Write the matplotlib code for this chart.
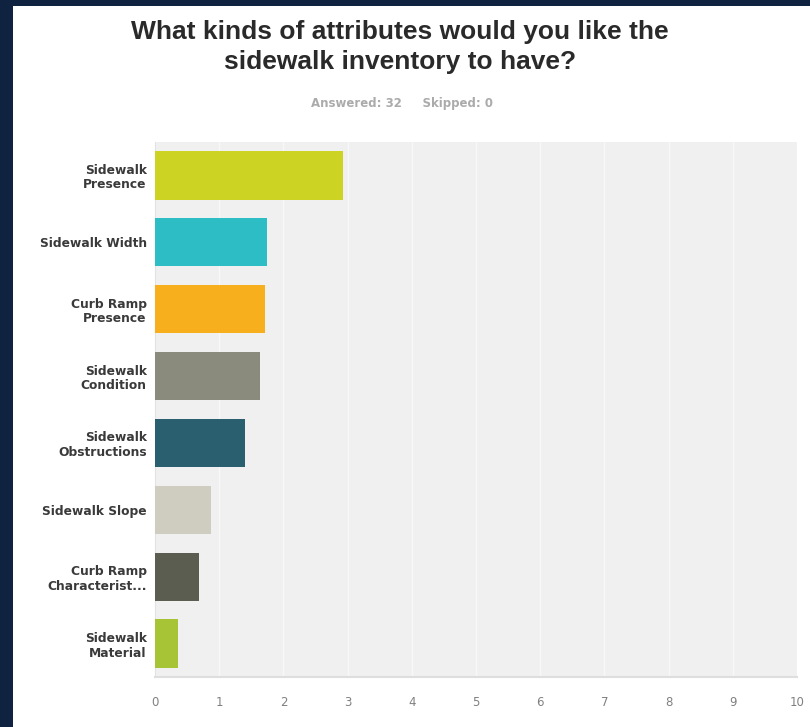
import matplotlib
matplotlib.use("Agg")
import matplotlib.pyplot as plt
from matplotlib.patches import Rectangle

categories = ["Sidewalk\nPresence", "Sidewalk Width", "Curb Ramp\nPresence", "Sidewalk\nCondition",
              "Sidewalk\nObstructions", "Sidewalk Slope", "Curb Ramp\nCharacterist...", "Sidewalk\nMaterial"]
values = [2.93, 1.75, 1.72, 1.64, 1.40, 0.87, 0.69, 0.36]
colors = ["#cdd322", "#2dbdc4", "#f8af1d", "#8a8b7c", "#2a5f6f", "#cfcdbf", "#5b5d50", "#a6c435"]
xticks = list(range(0, 11))

plt.rcParams['font.family'] = ['Liberation Sans', 'DejaVu Sans']

W, H = 810, 727
fig = plt.figure(figsize=(W / 100, H / 100), dpi=100)
fig.patch.set_facecolor("#0f2341")
fig.add_artist(Rectangle((13 / W, 0), 1, (H - 6) / H, transform=fig.transFigure,
                         facecolor="white", edgecolor="none", zorder=0))

ax = fig.add_axes([155 / W, 1 - 677 / H, (797 - 155) / W, (677 - 142) / H])
ax.set_facecolor("#f0f0f0")
y = list(range(len(categories)))
ax.barh(y, values, height=0.72, color=colors, zorder=3)
ax.set_xlim(0, 10)
ax.set_ylim(len(categories) - 0.5, -0.5)
ax.set_xticks(xticks)
ax.set_xticklabels([str(t) for t in xticks], color="#808080", fontsize=8.5,
                   family=["DejaVu Sans"])
ax.set_yticks(y)
ax.set_yticklabels(categories, fontsize=8.8, fontweight="bold", color="#3a3a3a",
                   linespacing=1.15, family=["DejaVu Sans"])
ax.tick_params(axis="both", length=0)
ax.tick_params(axis="x", pad=14)
ax.tick_params(axis="y", pad=6)
ax.xaxis.grid(True, color="#f8f8f8", linewidth=1.0, zorder=1)
ax.set_axisbelow(True)
for s in ["top", "right"]:
    ax.spines[s].set_visible(False)
ax.spines["left"].set_color("#e2e2e2")
ax.spines["bottom"].set_color("#dedede")
ax.spines["bottom"].set_linewidth(1.5)

fig.text(400 / W, 1 - 47 / H, "What kinds of attributes would you like the\nsidewalk inventory to have?",
         ha="center", va="center", fontsize=19, fontweight="bold", color="#2a2a2a",
         linespacing=1.35)
fig.text(402 / W, 1 - 103 / H, "Answered: 32     Skipped: 0", ha="center", va="center",
         fontsize=8.5, fontweight="bold", color="#ababab", family=["DejaVu Sans"])

fig.savefig("out.png", dpi=100, facecolor=fig.get_facecolor())
